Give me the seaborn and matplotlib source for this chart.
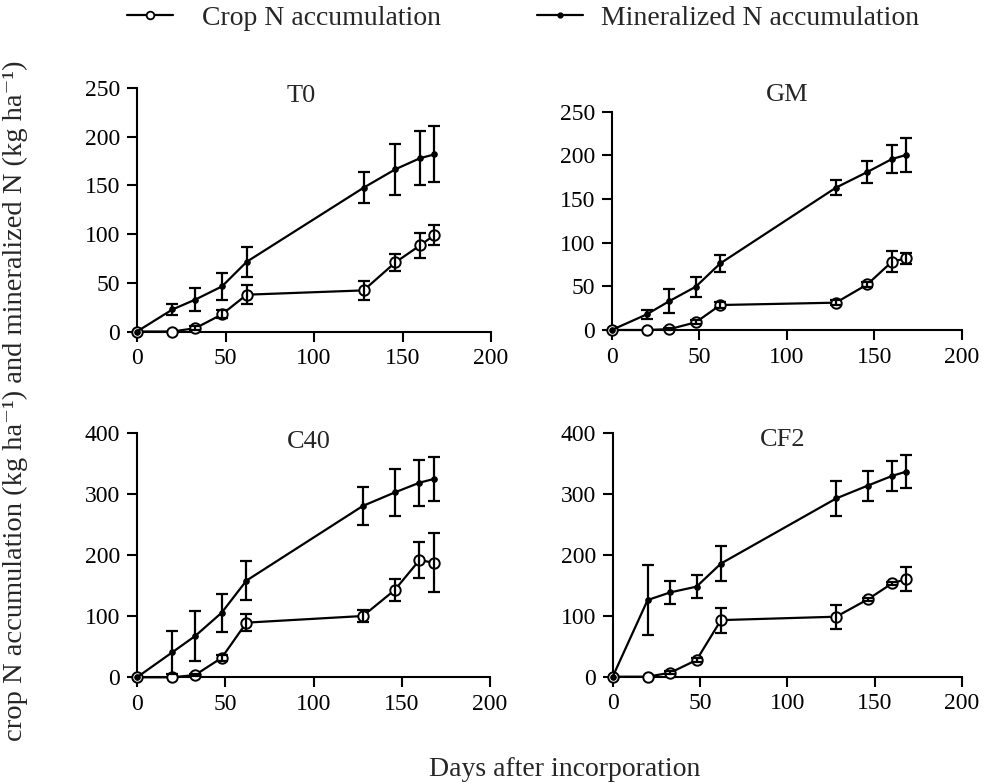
import numpy as np
import pandas as pd
import matplotlib
matplotlib.use("Agg")
import matplotlib.pyplot as plt
from matplotlib.lines import Line2D
import seaborn as sns

# ---------------- data ----------------
days = [0, 20, 33, 48, 62, 128, 146, 160, 168]
panels = ["T0", "GM", "C40", "CF2"]

t0_min = [0, 22.6, 32.8, 46.3, 71.6, 147.6, 166.6, 178.0, 181.8]
t0_min_err = [0, 5.6, 12.0, 13.5, 15.5, 16.0, 26.0, 28.0, 28.7]
t0_crop = [0, 0, 3.4, 17.6, 37.8, 42.2, 71.0, 88.5, 99.0]
t0_crop_err = [0, 0, 2.0, 4.0, 10.0, 9.6, 8.4, 12.7, 10.6]

gm_min = [0, 17.9, 33.2, 49.6, 76.3, 163.0, 181.0, 195.8, 200.4]
gm_min_err = [0, 5.0, 13.4, 11.5, 9.5, 8.6, 12.4, 16.2, 20.0]
gm_crop = [0, 0, 1.0, 8.8, 28.6, 31.3, 52.3, 78.2, 82.0]
gm_crop_err = [0, 0, 1.0, 2.5, 3.0, 3.0, 3.0, 12.0, 6.0]

c40_min = [0, 41.0, 67.8, 106.0, 158.5, 281.0, 303.0, 319.0, 325.0]
c40_min_err = [0, 35.0, 41.0, 31.0, 31.7, 31.0, 39.0, 37.7, 35.5]
c40_crop = [0, 0, 3.8, 32.0, 89.6, 100.5, 143.0, 192.0, 188.0]
c40_crop_err = [0, 0, 2.0, 5.0, 14.5, 10.6, 18.6, 29.5, 48.0]

cf2_min = [0, 126.0, 138.6, 148.0, 186.0, 293.0, 314.0, 330.0, 337.0]
cf2_min_err = [0, 58.0, 19.0, 19.0, 28.5, 28.5, 24.7, 25.0, 27.4]
cf2_crop = [0, 0, 6.6, 27.4, 93.0, 98.6, 127.0, 153.4, 160.5]
cf2_crop_err = [0, 0, 2.0, 3.0, 20.5, 20.0, 3.0, 3.0, 20.0]

x_ticks = [0, 50, 100, 150, 200]
y_ticks_small = [0, 50, 100, 150, 200, 250]
y_ticks_large = [0, 100, 200, 300, 400]

series = {
    "T0": (t0_crop, t0_crop_err, t0_min, t0_min_err, y_ticks_small),
    "GM": (gm_crop, gm_crop_err, gm_min, gm_min_err, y_ticks_small),
    "C40": (c40_crop, c40_crop_err, c40_min, c40_min_err, y_ticks_large),
    "CF2": (cf2_crop, cf2_crop_err, cf2_min, cf2_min_err, y_ticks_large),
}

# ---------------- style ----------------
sns.set_theme(style="ticks")
plt.rcParams["font.family"] = ["Liberation Serif", "DejaVu Serif"]

W, H = 989, 784
fig = plt.figure(figsize=(W / 100, H / 100), dpi=100)

# axes rectangles in pixels: left, top, right, bottom
rects = {
    "T0": (137, 88, 491, 331.5),
    "GM": (611.7, 111.7, 962, 330),
    "C40": (137, 433.3, 490, 677.3),
    "CF2": (612.7, 433.3, 962, 676.7),
}
title_pos = {"T0": (301, 95.7), "GM": (787, 95), "C40": (309, 441.7), "CF2": (783, 440)}

lw = 1.6
for name in panels:
    l, t, r, b = rects[name]
    ax = fig.add_axes([l / W, 1 - b / H, (r - l) / W, (b - t) / H])
    crop, crop_err, mineral, mineral_err, yt = series[name]
    df = pd.DataFrame({"day": days, "crop": crop, "mineral": mineral})

    sns.lineplot(data=df, x="day", y="crop", ax=ax, color="black", lw=lw,
                 marker="o", markersize=7.5, markerfacecolor="white",
                 markeredgecolor="black", markeredgewidth=1.4,
                 clip_on=False, zorder=3)
    sns.lineplot(data=df, x="day", y="mineral", ax=ax, color="black", lw=lw,
                 marker="o", markersize=4, markerfacecolor="black",
                 markeredgecolor="black", clip_on=False, zorder=4)

    for vals, errs in ((mineral, mineral_err), (crop, crop_err)):
        d = np.array(days)
        v = np.array(vals)
        e = np.array(errs)
        m = e > 0
        ax.errorbar(d[m], v[m], yerr=e[m], fmt="none", ecolor="black",
                    elinewidth=lw, capsize=4.5, capthick=lw,
                    clip_on=False, zorder=5)

    ax.set_xlim(0, 200)
    ax.set_ylim(yt[0], yt[-1])
    ax.set_xticks(x_ticks)
    ax.set_yticks(yt)
    ax.set_xlabel("")
    ax.set_ylabel("")
    sns.despine(ax=ax)
    for s in ("left", "bottom"):
        ax.spines[s].set_linewidth(1.5)
        ax.spines[s].set_color("black")
    ax.tick_params(axis="both", direction="out", length=7, width=1.5,
                   color="black", labelsize=17, labelcolor="black", pad=5)
    ax.set_facecolor("white")

    tx, ty = title_pos[name]
    fig.text(tx / W, 1 - ty / H, name, ha="center", va="center", fontsize=19)

# ---------------- legend ----------------
h_crop = Line2D([], [], color="black", lw=lw, marker="o", markersize=5.5,
                markerfacecolor="white", markeredgecolor="black", markeredgewidth=1.3)
h_min = Line2D([], [], color="black", lw=lw, marker="o", markersize=3.5,
               markerfacecolor="black", markeredgecolor="black")
fig.legend([h_crop], ["Crop N accumulation"], loc="center left",
           bbox_to_anchor=(127 / W, 1 - 18 / H), frameon=False,
           fontsize=20, handlelength=1.65, handletextpad=1.05,
           borderpad=0, borderaxespad=0)
fig.legend([h_min], ["Mineralized N accumulation"], loc="center left",
           bbox_to_anchor=(537 / W, 1 - 18 / H), frameon=False,
           fontsize=20, handlelength=1.65, handletextpad=0.65,
           borderpad=0, borderaxespad=0)

# ---------------- axis labels ----------------
fig.text(565 / W, 1 - 769 / H, "Days after incorporation", ha="center",
         va="center", fontsize=20)
fig.text(15 / W, 1 - 401 / H,
         "crop N accumulation (kg ha\u207b\u00b9) and mineralized N (kg ha\u207b\u00b9)",
         rotation=90, ha="center", va="center", fontsize=20.5)

fig.savefig("out.png", dpi=100, facecolor="white")
